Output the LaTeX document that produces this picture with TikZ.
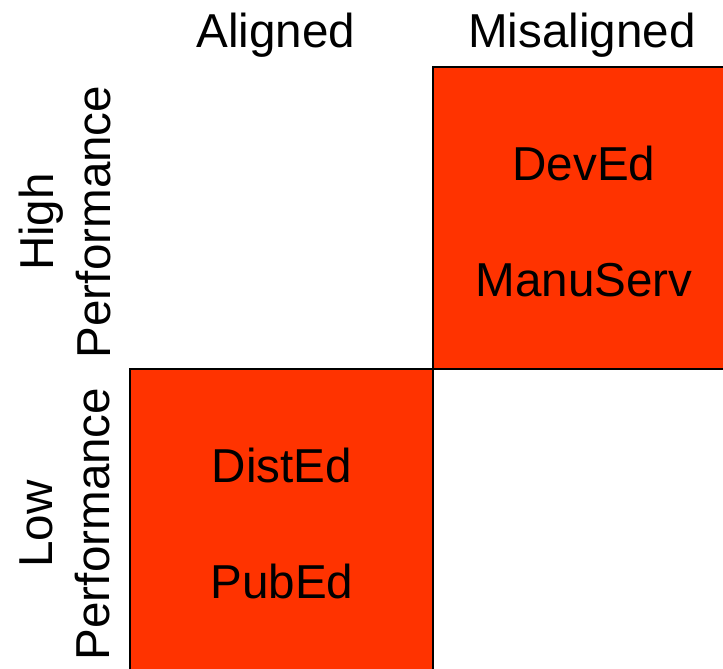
\documentclass[tikz,border=0pt]{standalone}
\usepackage{fontspec}
\setmainfont{Liberation Sans}
\definecolor{cellred}{HTML}{FF3300}
\begin{document}
\begin{tikzpicture}[x=1pt,y=-1pt,
  cell/.style={draw=black, fill=cellred, line width=1.6pt, inner sep=0pt, outer sep=0pt},
  lbl/.style={font=\fontsize{47.6}{57}\selectfont, inner sep=0pt, anchor=base},
  side/.style={font=\fontsize{47.6}{57}\selectfont, inner sep=0pt, align=center, rotate=90}]
\useasboundingbox (0,0) rectangle (723,669);
\clip (0,0) rectangle (723,669);
\path[cell] (433,67) rectangle (740,369);
\path[cell] (130,369) rectangle (433,690);
\node[lbl] (al) at (276,48) {Aligned};
\node[lbl] (mis) at (582,48) {Misaligned};
\node[lbl] (dev) at (584,180) {DevEd};
\node[lbl] (manu) at (584,296) {ManuServ};
\node[lbl] (dist) at (282,482) {DistEd};
\node[lbl] (pub) at (282,598) {PubEd};
\node[side] (high) at (65,222) {High\\Performance};
\node[side] (low) at (65,524) {Low\\Performance};
\end{tikzpicture}
\end{document}
